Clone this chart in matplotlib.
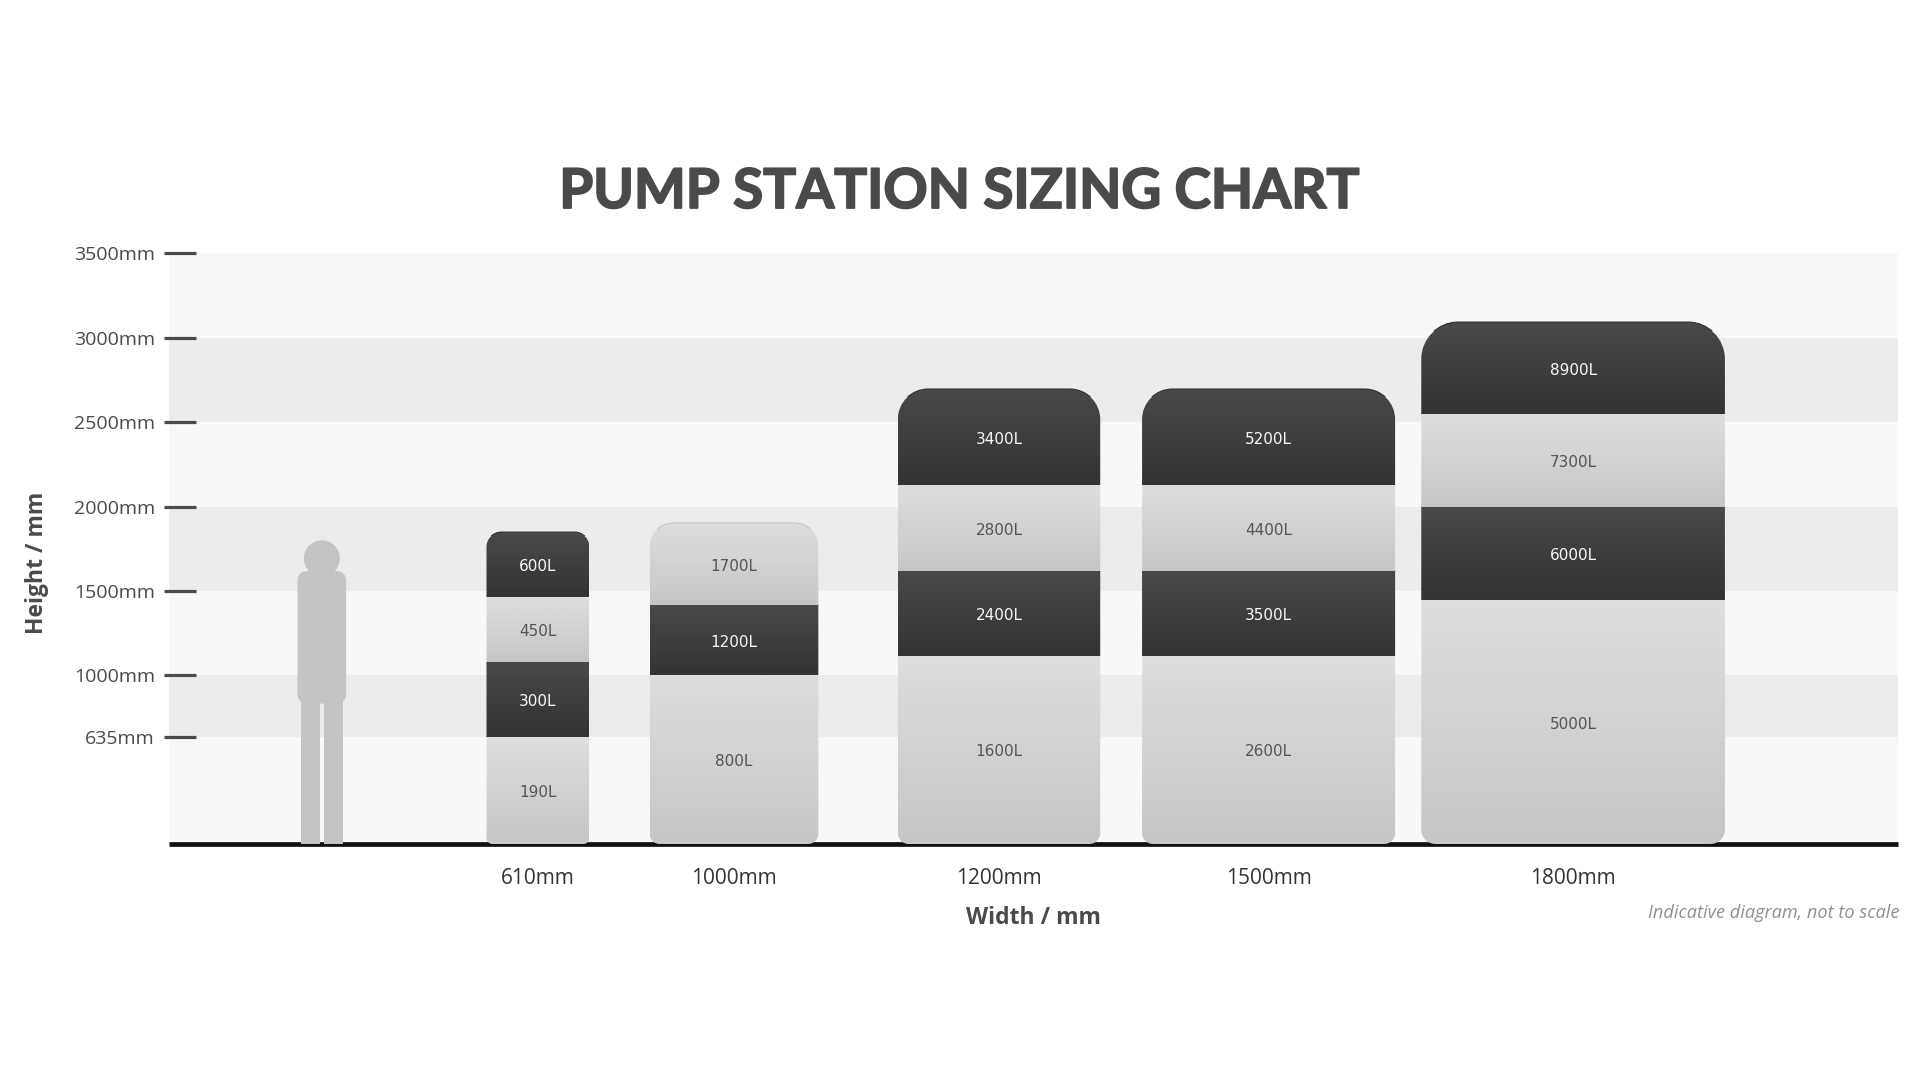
import numpy as np
import matplotlib
matplotlib.use('Agg')
import matplotlib.pyplot as plt
import matplotlib.patheffects as pe
from matplotlib.patches import Circle, FancyBboxPatch, PathPatch
from matplotlib.path import Path


# chart values, all in mm
widths = [610, 1000, 1200, 1500, 1800]
width_labels = ['610mm', '1000mm', '1200mm', '1500mm', '1800mm']
centres = [2187, 3349, 4920, 6518, 8323]

# top edge of every segment, bottom to top
tops_610 = [635, 1079, 1464, 1849]
tops_1000 = [1000, 1417, 1903]
tops_1200 = [1116, 1620, 2125, 2697]
tops_1500 = [1116, 1620, 2125, 2697]
tops_1800 = [1446, 2000, 2549, 3094]
all_tops = [tops_610, tops_1000, tops_1200, tops_1500, tops_1800]

vols_610 = ['190L', '300L', '450L', '600L']
vols_1000 = ['800L', '1200L', '1700L']
vols_1200 = ['1600L', '2400L', '2800L', '3400L']
vols_1500 = ['2600L', '3500L', '4400L', '5200L']
vols_1800 = ['5000L', '6000L', '7300L', '8900L']
all_vols = [vols_610, vols_1000, vols_1200, vols_1500, vols_1800]

height_ticks = [635, 1000, 1500, 2000, 2500, 3000, 3500]
height_labels = ['635mm', '1000mm', '1500mm', '2000mm', '2500mm', '3000mm', '3500mm']

# corner radii of the tanks
top_radius = [88, 140, 180, 180, 220]
bottom_radius = [35, 60, 65, 65, 85]

# person for scale
person_x = 906
person_height = 1800
head_r = 107
torso_w = 288
torso_bottom = 832
torso_top = 1618
leg_w = 113
leg_gap = 26

PX = 0.1687  # px per mm, same both ways
x_right = 1729 / PX
x_left = -5 / PX

FONT = 'Open Sans'
TEXT = '#4a4a4a'
LIGHT = ('#dedede', '#c6c6c6')
DARK = ('#494949', '#333333')
PERSON = '#c4c4c4'
K = 0.4477  # control point distance for a quarter circle, from the corner


def tank_path(x0, x1, y1, rt, rb):
    verts = [(x0 + rb, 0), (x1 - rb, 0),
             (x1 - rb * K, 0), (x1, rb * K), (x1, rb),
             (x1, y1 - rt),
             (x1, y1 - rt * K), (x1 - rt * K, y1), (x1 - rt, y1),
             (x0 + rt, y1),
             (x0 + rt * K, y1), (x0, y1 - rt * K), (x0, y1 - rt),
             (x0, rb),
             (x0, rb * K), (x0 + rb * K, 0), (x0 + rb, 0),
             (x0 + rb, 0)]
    codes = [Path.MOVETO, Path.LINETO,
             Path.CURVE4, Path.CURVE4, Path.CURVE4,
             Path.LINETO,
             Path.CURVE4, Path.CURVE4, Path.CURVE4,
             Path.LINETO,
             Path.CURVE4, Path.CURVE4, Path.CURVE4,
             Path.LINETO,
             Path.CURVE4, Path.CURVE4, Path.CURVE4,
             Path.CLOSEPOLY]
    return Path(verts, codes)


def gradient(colours):
    c0 = np.array(matplotlib.colors.to_rgb(colours[0]))
    c1 = np.array(matplotlib.colors.to_rgb(colours[1]))
    t = np.linspace(0, 1, 64)[:, None, None]
    return c0 + (c1 - c0) * t


plt.rcParams['font.family'] = [FONT, 'DejaVu Sans']
fig = plt.figure(figsize=(19.2, 10.8), dpi=100)
ax = fig.add_axes([164 / 1920, 1 - 844 / 1080, (1898 - 164) / 1920, (844 - 253.5) / 1080])

# background bands
band_edges = [0] + height_ticks
for i in range(len(band_edges) - 1):
    colour = '#f8f8f8' if i % 2 == 0 else '#ececec'
    ax.fill_between([0, x_right], band_edges[i], band_edges[i + 1], color=colour, lw=0, zorder=0)

ax.plot([0, x_right], [0, 0], color='#111111', lw=3.4, solid_capstyle='butt', clip_on=False, zorder=1)

# person
px_kw = dict(color=PERSON, lw=0, zorder=2)
ax.add_patch(Circle((person_x, person_height - head_r), head_r, **px_kw))
ax.add_patch(FancyBboxPatch((person_x - torso_w / 2 + 60, torso_bottom + 60), torso_w - 120, torso_top - torso_bottom - 120,
                            boxstyle='round,pad=60,rounding_size=60', **px_kw))
ax.add_patch(plt.Rectangle((person_x - leg_gap / 2 - leg_w, 0), leg_w, torso_bottom + 10, **px_kw))
ax.add_patch(plt.Rectangle((person_x + leg_gap / 2, 0), leg_w, torso_bottom + 10, **px_kw))

# tanks
for i, w in enumerate(widths):
    x0 = centres[i] - w / 2
    x1 = centres[i] + w / 2
    tops = all_tops[i]
    shape = tank_path(x0, x1, tops[-1], top_radius[i], bottom_radius[i])
    clip = PathPatch(shape, transform=ax.transData)
    bottom = 0
    for j, top in enumerate(tops):
        dark = j % 2 == 1
        im = ax.imshow(gradient(DARK if dark else LIGHT), extent=[x0, x1, bottom, top], aspect='auto',
                       origin='upper', interpolation='bilinear', zorder=3)
        im.set_clip_path(clip)
        ax.annotate(all_vols[i][j], (centres[i], (bottom + top) / 2), xytext=(0, -1.5), textcoords='offset points',
                    ha='center', va='center', fontsize=11, family='DejaVu Sans',
                    color='#f8f8f8' if dark else '#555555', zorder=4)
        bottom = top
    # thin edge along the very top only
    edge = PathPatch(shape, fill=False, lw=0.7, zorder=3.5,
                     edgecolor='#2a2a2a' if len(tops) % 2 == 0 else '#c2c2c2')
    ax.add_patch(edge)
    edge.set_clip_path(plt.Rectangle((x0 - 10, tops[-1] - top_radius[i] * 0.25), w + 20, top_radius[i],
                                     transform=ax.transData))

ax.set_xlim(x_left, x_right)
ax.set_ylim(0, 3500)
for s in ax.spines.values():
    s.set_visible(False)
ax.patch.set_alpha(0)

ax.set_yticks(height_ticks, height_labels)
ax.tick_params(axis='y', direction='in', length=23, width=2.3, color=TEXT, pad=6.5, labelsize=14, labelcolor=TEXT)
ax.set_xticks(centres, width_labels)
ax.tick_params(axis='x', length=0, pad=17, labelsize=15, labelcolor='#333333')
ax.set_axisbelow(False)

title = fig.text(959 / 1920, 1 - 192 / 1080, 'PUMP STATION SIZING CHART', ha='center', va='center',
                 fontsize=39.5, fontweight='bold', family='Lato', color=TEXT)
title.set_path_effects([pe.withStroke(linewidth=1.3, foreground=TEXT)])
fig.text(1033 / 1920, 1 - 918 / 1080, 'Width / mm', ha='center', va='center', fontsize=16.5,
         fontweight='bold', color=TEXT)
fig.text(37 / 1920, 1 - 563 / 1080, 'Height / mm', ha='center', va='center', rotation=90, fontsize=16.5,
         fontweight='bold', color=TEXT)
fig.text(1899 / 1920, 1 - 913 / 1080, 'Indicative diagram, not to scale', ha='right', va='center',
         fontsize=13.1, style='italic', color='#8f8f8f')

fig.savefig('out.png', dpi=100)
